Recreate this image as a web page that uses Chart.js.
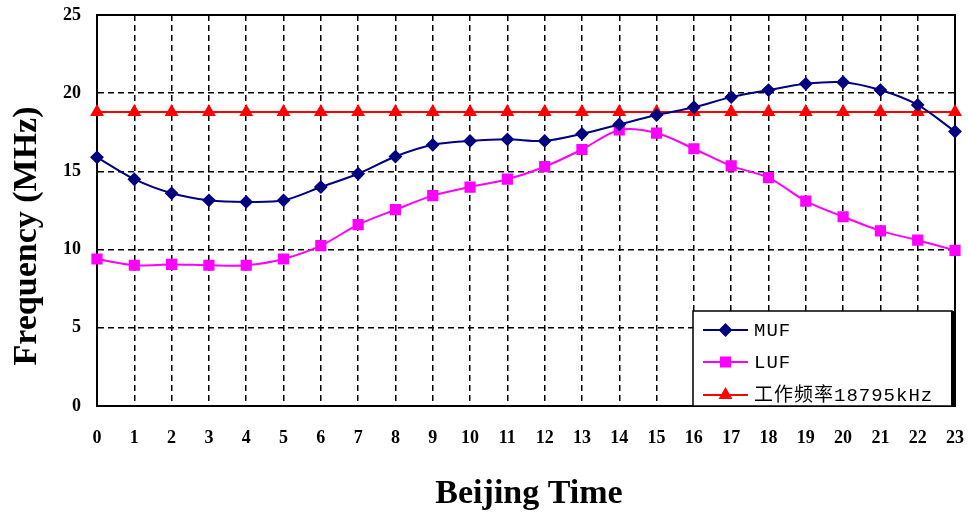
<!DOCTYPE html>
<html>
<head>
<meta charset="utf-8">
<script src="https://cdn.jsdelivr.net/npm/chart.js@4/dist/chart.umd.min.js"></script>
<style>
  html, body { margin: 0; padding: 0; background: #ffffff; }
  #wrap { width: 968px; height: 521px; position: relative; }
</style>
</head>
<body>
<div id="wrap"><canvas id="c" width="968" height="521"></canvas></div>
<script>
// Hour of day (Beijing time)
const hours = ['0','1','2','3','4','5','6','7','8','9','10','11',
               '12','13','14','15','16','17','18','19','20','21','22','23'];

// Maximum usable frequency, MHz
const mufValues = [15.9, 14.5, 13.6, 13.15, 13.05, 13.15, 14.0, 14.85, 15.95, 16.7, 16.95, 17.05,
                   16.95, 17.4, 18.0, 18.6, 19.1, 19.75, 20.2, 20.6, 20.7, 20.2, 19.25, 17.55];

// Lowest usable frequency, MHz
const lufValues = [9.4, 9.0, 9.05, 9.0, 9.0, 9.4, 10.25, 11.6, 12.55, 13.45, 14.0, 14.5,
                   15.3, 16.4, 17.65, 17.45, 16.45, 15.35, 14.6, 13.1, 12.1, 11.2, 10.6, 9.95];

// Working frequency 18795 kHz, MHz
const workValues = [18.795, 18.795, 18.795, 18.795, 18.795, 18.795, 18.795, 18.795,
                    18.795, 18.795, 18.795, 18.795, 18.795, 18.795, 18.795, 18.795,
                    18.795, 18.795, 18.795, 18.795, 18.795, 18.795, 18.795, 18.795];

const seriesLabels = ['MUF', 'LUF', '工作频率18795kHz'];
const yTitle = 'Frequency (MHz)';
const xTitle = 'Beijing Time';

const SERIF = '"Liberation Serif", "Times New Roman", serif';
const LEGEND_FONT = '19px "Liberation Mono", "Noto Sans CJK SC", monospace';

// Solid frame around the plotting area
const frame = {
  id: 'frame',
  beforeDatasetsDraw(chart) {
    const { ctx, chartArea: a } = chart;
    ctx.save();
    ctx.strokeStyle = '#000';
    ctx.lineWidth = 2;
    ctx.strokeRect(a.left, a.top, a.right - a.left, a.bottom - a.top);
    ctx.restore();
  }
};

// Axis titles
const titles = {
  id: 'titles',
  afterDraw(chart) {
    const { ctx, chartArea: a } = chart;
    ctx.save();
    ctx.fillStyle = '#000';
    ctx.font = 'bold 34px ' + SERIF;
    ctx.textAlign = 'center';
    ctx.textBaseline = 'middle';
    ctx.fillText(xTitle, (a.left + a.right) / 2 + 3, 494);
    ctx.translate(27, 236);
    ctx.rotate(-Math.PI / 2);
    ctx.fillText(yTitle, 0, 0);
    ctx.restore();
  }
};

// Legend box in the lower right corner of the plot
const boxLegend = {
  id: 'boxLegend',
  afterDraw(chart) {
    const { ctx, chartArea: a } = chart;
    const left = 693, top = 311, right = a.right - 3, bottom = a.bottom;
    ctx.save();
    ctx.fillStyle = '#fff';
    ctx.fillRect(left, top, right - left, bottom - top);
    ctx.strokeStyle = '#000';
    ctx.lineWidth = 1.5;
    ctx.strokeRect(left, top, right - left, bottom - top);
    ctx.lineWidth = 3;
    ctx.beginPath();
    ctx.moveTo(right + 0.5, top);
    ctx.lineTo(right + 0.5, bottom);
    ctx.stroke();
    const rows = [330, 362, 395];
    chart.data.datasets.forEach((ds, i) => {
      const y = rows[i];
      ctx.strokeStyle = ds.borderColor;
      ctx.fillStyle = ds.pointBackgroundColor;
      ctx.lineWidth = 2;
      ctx.beginPath();
      ctx.moveTo(703, y);
      ctx.lineTo(748, y);
      ctx.stroke();
      Chart.helpers.drawPoint(ctx, {
        pointStyle: ds.pointStyle, radius: ds.pointRadius, rotation: 0, borderWidth: 1
      }, 725.5, y);
      ctx.fillStyle = '#000';
      ctx.font = LEGEND_FONT;
      ctx.letterSpacing = '1px';
      ctx.textAlign = 'left';
      ctx.textBaseline = 'middle';
      ctx.fillText(ds.label, 754, y + 1);
    });
    ctx.restore();
  }
};

const gridDash = { color: '#000', lineWidth: 1.5, drawTicks: false };

new Chart(document.getElementById('c'), {
  type: 'line',
  data: {
    labels: hours,
    datasets: [
      {
        label: seriesLabels[0], data: mufValues,
        borderColor: '#000080', pointBackgroundColor: '#000080', pointBorderColor: '#000080',
        borderWidth: 2, pointStyle: 'rectRot', pointRadius: 5.5, tension: 0.3
      },
      {
        label: seriesLabels[1], data: lufValues,
        borderColor: '#ff00ff', pointBackgroundColor: '#ff00ff', pointBorderColor: '#ff00ff',
        borderWidth: 2, pointStyle: 'rect', pointRadius: 6.5, tension: 0.3
      },
      {
        label: seriesLabels[2], data: workValues,
        borderColor: '#ff0000', pointBackgroundColor: '#ff0000', pointBorderColor: '#ff0000',
        borderWidth: 2, pointStyle: 'triangle', pointRadius: 6, tension: 0
      }
    ]
  },
  options: {
    responsive: false,
    animation: false,
    layout: { padding: { top: 15, right: 13, left: 0, bottom: 0 } },
    plugins: { legend: { display: false }, tooltip: { enabled: false } },
    scales: {
      x: {
        type: 'category',
        offset: false,
        grid: gridDash,
        border: { display: true, color: '#000', width: 2, dash: [6, 4] },
        ticks: {
          color: '#000', padding: 22, maxRotation: 0, autoSkip: false,
          font: { family: SERIF, size: 18, weight: 'bold' }
        },
        afterFit(scale) {
          scale.height = 115;
          scale.paddingLeft = 0;
          scale.paddingRight = 0;
        }
      },
      y: {
        min: 0, max: 25,
        grid: gridDash,
        border: { display: true, color: '#000', width: 2, dash: [6, 4] },
        ticks: {
          stepSize: 5, color: '#000', padding: 16,
          font: { family: SERIF, size: 18, weight: 'bold' }
        },
        afterFit(scale) {
          scale.width = 97;
          scale.paddingTop = 0;
          scale.paddingBottom = 0;
        }
      }
    }
  },
  plugins: [frame, titles, boxLegend]
});
</script>
</body>
</html>
